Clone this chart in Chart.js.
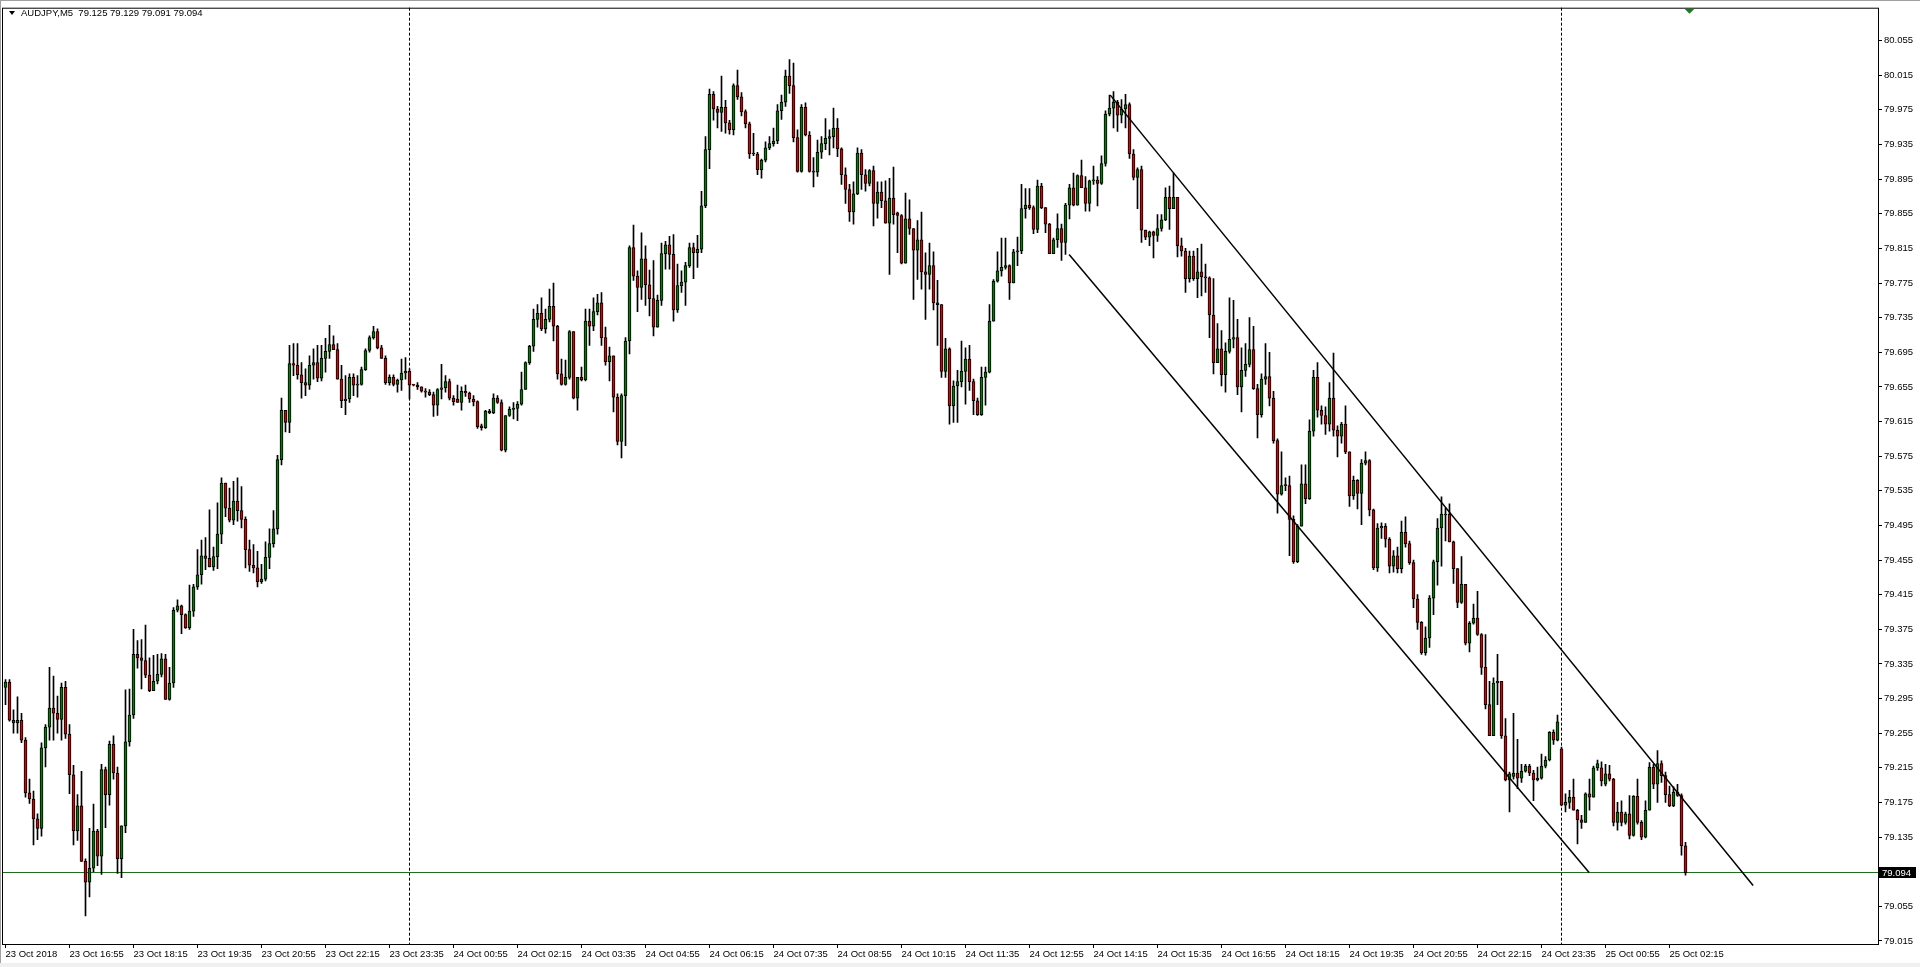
<!DOCTYPE html>
<html>
<head>
<meta charset="utf-8">
<title>AUDJPY,M5</title>
<script src="https://cdn.jsdelivr.net/npm/chart.js@4.4.1/dist/chart.umd.min.js"></script>
<style>
  html, body { margin: 0; padding: 0; background: #fff; overflow: hidden; }
  canvas { display: block; }
</style>
</head>
<body>
<canvas id="chart" width="1920" height="967"></canvas>
<script>
// AUDJPY M5 candles, 23 Oct 15:35 .. 25 Oct 02:40 (one entry per bar)
const symbolTitle = 'AUDJPY,M5';

const opens = [
  79.308,79.314,79.270,79.267,79.270,79.247,79.186,79.179,79.156,79.145,
  79.238,79.262,79.284,79.278,79.271,79.308,79.254,79.207,79.142,79.171,
  79.107,79.083,79.099,79.142,79.113,79.213,79.184,79.242,79.209,79.110,
  79.148,79.245,79.276,79.346,79.342,79.339,79.322,79.304,79.315,79.323,
  79.341,79.294,79.313,79.397,79.402,79.392,79.377,79.396,79.424,79.438,
  79.460,79.457,79.447,79.459,79.485,79.544,79.515,79.501,79.523,79.512,
  79.502,79.467,79.449,79.446,79.430,79.433,79.458,79.474,79.491,79.571,
  79.628,79.614,79.682,79.680,79.669,79.660,79.657,79.680,79.683,79.665,
  79.688,79.696,79.704,79.698,79.664,79.639,79.641,79.666,79.657,79.658,
  79.675,79.697,79.712,79.719,79.700,79.688,79.660,79.666,79.658,79.663,
  79.671,79.673,79.658,79.657,79.655,79.650,79.649,79.646,79.634,79.652,
  79.654,79.661,79.642,79.641,79.637,79.650,79.648,79.641,79.638,79.610,
  79.608,79.627,79.625,79.642,79.637,79.582,79.622,79.629,79.630,79.635,
  79.652,79.683,79.702,79.733,79.740,79.722,79.733,79.748,79.725,79.670,
  79.658,79.666,79.719,79.642,79.666,79.663,79.731,79.725,79.742,79.752,
  79.712,79.684,79.691,79.643,79.592,79.645,79.708,79.816,79.783,79.770,
  79.803,79.773,79.757,79.724,79.755,79.809,79.819,79.808,79.744,79.772,
  79.776,79.795,79.816,79.810,79.814,79.864,79.929,79.993,79.976,79.972,
  79.978,79.960,79.952,80.003,79.990,79.973,79.959,79.925,79.924,79.906,
  79.917,79.931,79.936,79.939,79.974,79.984,80.014,80.003,79.943,79.904,
  79.978,79.946,79.904,79.903,79.926,79.936,79.942,79.944,79.954,79.930,
  79.900,79.883,79.857,79.878,79.925,79.900,79.890,79.905,79.867,79.880,
  79.870,79.844,79.873,79.856,79.853,79.798,79.849,79.838,79.813,79.825,
  79.788,79.785,79.795,79.752,79.750,79.673,79.699,79.633,79.656,79.661,
  79.673,79.687,79.661,79.639,79.623,79.666,79.672,79.731,79.777,79.789,
  79.793,79.795,79.775,79.811,79.812,79.861,79.865,79.862,79.837,79.887,
  79.862,79.843,79.809,79.825,79.838,79.822,79.865,79.885,79.865,79.899,
  79.885,79.867,79.893,79.894,79.890,79.913,79.970,79.977,79.984,79.969,
  79.976,79.981,79.924,79.897,79.906,79.836,79.828,79.834,79.830,79.838,
  79.848,79.874,79.861,79.874,79.818,79.812,79.780,79.806,79.780,79.788,
  79.782,79.781,79.738,79.683,79.699,79.669,79.696,79.710,79.712,79.655,
  79.674,79.681,79.698,79.653,79.623,79.664,79.667,79.642,79.593,79.531,
  79.541,79.541,79.502,79.453,79.494,79.543,79.526,79.604,79.666,79.628,
  79.622,79.612,79.642,79.605,79.598,79.612,79.580,79.529,79.547,79.532,
  79.567,79.570,79.513,79.446,79.492,79.494,79.479,79.448,79.460,79.445,
  79.487,79.474,79.452,79.410,79.383,79.348,79.365,79.411,79.453,79.492,
  79.507,79.508,79.476,79.445,79.406,79.427,79.359,79.382,79.388,79.369,
  79.331,79.288,79.252,79.313,79.315,79.252,79.201,79.205,79.209,79.203,
  79.211,79.217,79.209,79.201,79.203,79.217,79.224,79.256,79.247,79.237,
  79.172,79.175,79.181,79.166,79.155,79.152,79.185,79.181,79.215,79.215,
  79.196,79.208,79.202,79.152,79.164,79.152,79.162,79.137,79.182,79.152,
  79.135,79.166,79.216,79.196,79.220,79.206,79.184,79.171,79.187,79.183,
  79.125
];

const highs = [
  79.317,79.317,79.282,79.297,79.278,79.250,79.202,79.188,79.162,79.244,
  79.265,79.331,79.321,79.298,79.313,79.315,79.265,79.218,79.184,79.211,
  79.110,79.145,79.173,79.144,79.219,79.216,79.246,79.252,79.216,79.148,
  79.305,79.306,79.375,79.362,79.363,79.380,79.342,79.345,79.346,79.347,
  79.346,79.331,79.400,79.409,79.403,79.393,79.426,79.427,79.467,79.478,
  79.481,79.513,79.470,79.521,79.550,79.544,79.538,79.546,79.550,79.540,
  79.505,79.478,79.473,79.465,79.450,79.476,79.491,79.512,79.576,79.642,
  79.628,79.703,79.705,79.705,79.683,79.676,79.691,79.699,79.703,79.703,
  79.711,79.726,79.714,79.705,79.680,79.668,79.670,79.670,79.668,79.678,
  79.699,79.714,79.725,79.722,79.703,79.691,79.669,79.669,79.664,79.687,
  79.689,79.676,79.658,79.660,79.655,79.653,79.652,79.649,79.653,79.681,
  79.668,79.664,79.645,79.657,79.655,79.657,79.649,79.645,79.639,79.612,
  79.628,79.629,79.647,79.645,79.640,79.622,79.632,79.637,79.638,79.672,
  79.684,79.703,79.745,79.750,79.758,79.745,79.768,79.775,79.726,79.687,
  79.686,79.720,79.719,79.666,79.678,79.745,79.745,79.758,79.762,79.764,
  79.724,79.701,79.691,79.647,79.647,79.712,79.818,79.842,79.789,79.833,
  79.818,79.790,79.801,79.761,79.821,79.823,79.829,79.831,79.797,79.789,
  79.799,79.821,79.821,79.830,79.881,79.944,79.999,79.996,79.979,80.014,
  79.986,79.963,80.005,80.021,79.995,79.975,79.961,79.948,79.926,79.918,
  79.938,79.944,79.954,79.981,79.992,80.021,80.033,80.029,79.952,79.981,
  79.983,79.950,79.920,79.940,79.944,79.965,79.952,79.977,79.965,79.931,
  79.908,79.889,79.892,79.931,79.929,79.906,79.906,79.910,79.892,79.892,
  79.893,79.896,79.909,79.857,79.854,79.879,79.871,79.838,79.847,79.857,
  79.810,79.821,79.811,79.778,79.750,79.711,79.700,79.662,79.674,79.708,
  79.700,79.703,79.664,79.642,79.678,79.678,79.750,79.779,79.811,79.827,
  79.827,79.796,79.814,79.828,79.889,79.884,79.884,79.864,79.894,79.890,
  79.862,79.844,79.827,79.855,79.843,79.867,79.889,79.902,79.900,79.917,
  79.898,79.894,79.910,79.898,79.922,79.974,79.992,79.996,79.986,79.987,
  79.993,79.983,79.929,79.908,79.910,79.836,79.835,79.835,79.854,79.854,
  79.885,79.887,79.902,79.874,79.827,79.815,79.812,79.812,79.815,79.820,
  79.797,79.782,79.780,79.728,79.720,79.706,79.758,79.755,79.733,79.700,
  79.705,79.735,79.725,79.658,79.670,79.705,79.695,79.650,79.595,79.580,
  79.550,79.552,79.506,79.496,79.565,79.565,79.617,79.674,79.683,79.633,
  79.632,79.660,79.694,79.610,79.614,79.633,79.580,79.552,79.548,79.571,
  79.580,79.571,79.514,79.497,79.498,79.497,79.481,79.466,79.470,79.500,
  79.505,79.477,79.455,79.415,79.384,79.378,79.414,79.455,79.503,79.528,
  79.515,79.520,79.477,79.445,79.459,79.427,79.384,79.404,79.419,79.370,
  79.369,79.315,79.319,79.346,79.315,79.272,79.210,79.278,79.248,79.219,
  79.219,79.219,79.212,79.216,79.231,79.228,79.257,79.259,79.276,79.239,
  79.185,79.189,79.202,79.167,79.160,79.186,79.202,79.217,79.224,79.222,
  79.219,79.218,79.203,79.175,79.177,79.164,79.183,79.183,79.202,79.154,
  79.177,79.221,79.219,79.235,79.223,79.210,79.194,79.193,79.196,79.185,
  79.129
];

const lows = [
  79.288,79.269,79.255,79.255,79.244,79.181,79.174,79.126,79.132,79.136,
  79.216,79.247,79.247,79.255,79.247,79.249,79.185,79.126,79.131,79.107,
  79.044,79.066,79.095,79.102,79.092,79.146,79.172,79.202,79.093,79.088,
  79.140,79.240,79.272,79.330,79.306,79.319,79.303,79.304,79.312,79.320,
  79.294,79.293,79.308,79.395,79.370,79.376,79.375,79.390,79.421,79.427,
  79.444,79.447,79.443,79.445,79.474,79.505,79.499,79.496,79.500,79.492,
  79.446,79.442,79.440,79.424,79.428,79.431,79.445,79.470,79.485,79.565,
  79.603,79.602,79.668,79.664,79.642,79.645,79.652,79.664,79.661,79.662,
  79.672,79.688,79.698,79.664,79.631,79.623,79.637,79.645,79.643,79.657,
  79.674,79.695,79.710,79.699,79.688,79.658,79.657,79.656,79.649,79.651,
  79.664,79.641,79.656,79.652,79.649,79.643,79.645,79.621,79.622,79.641,
  79.649,79.640,79.634,79.637,79.628,79.644,79.637,79.633,79.607,79.605,
  79.607,79.624,79.624,79.636,79.581,79.580,79.621,79.618,79.616,79.634,
  79.652,79.681,79.696,79.724,79.720,79.717,79.730,79.708,79.664,79.657,
  79.657,79.664,79.641,79.628,79.662,79.662,79.703,79.720,79.738,79.703,
  79.680,79.662,79.626,79.588,79.573,79.587,79.693,79.778,79.742,79.756,
  79.749,79.737,79.714,79.724,79.749,79.791,79.791,79.731,79.741,79.764,
  79.749,79.793,79.780,79.793,79.810,79.862,79.907,79.963,79.954,79.950,
  79.948,79.947,79.946,79.987,79.968,79.954,79.919,79.922,79.900,79.896,
  79.915,79.929,79.933,79.936,79.964,79.979,79.994,79.938,79.903,79.903,
  79.945,79.903,79.886,79.898,79.919,79.929,79.923,79.931,79.921,79.889,
  79.867,79.846,79.843,79.877,79.883,79.881,79.887,79.841,79.850,79.862,
  79.844,79.785,79.843,79.810,79.797,79.798,79.831,79.756,79.779,79.768,
  79.733,79.768,79.744,79.703,79.666,79.666,79.612,79.614,79.614,79.655,
  79.635,79.651,79.623,79.622,79.622,79.634,79.671,79.731,79.776,79.783,
  79.791,79.756,79.775,79.795,79.809,79.850,79.860,79.832,79.833,79.861,
  79.833,79.809,79.809,79.816,79.801,79.808,79.849,79.864,79.865,79.885,
  79.858,79.858,79.889,79.864,79.889,79.910,79.968,79.954,79.950,79.960,
  79.954,79.919,79.894,79.861,79.822,79.825,79.818,79.804,79.823,79.835,
  79.847,79.837,79.861,79.805,79.806,79.764,79.776,79.778,79.758,79.760,
  79.764,79.712,79.670,79.683,79.656,79.649,79.694,79.700,79.646,79.626,
  79.667,79.678,79.652,79.596,79.620,79.658,79.633,79.590,79.509,79.530,
  79.535,79.460,79.451,79.452,79.494,79.520,79.525,79.598,79.620,79.612,
  79.600,79.604,79.598,79.574,79.590,79.578,79.517,79.525,79.514,79.496,
  79.565,79.506,79.444,79.442,79.480,79.470,79.440,79.441,79.440,79.440,
  79.470,79.450,79.400,79.375,79.346,79.345,79.354,79.392,79.426,79.448,
  79.477,79.476,79.428,79.400,79.405,79.357,79.349,79.381,79.368,79.323,
  79.283,79.252,79.252,79.288,79.249,79.200,79.164,79.202,79.191,79.198,
  79.210,79.206,79.177,79.200,79.202,79.215,79.223,79.242,79.246,79.171,
  79.164,79.168,79.166,79.127,79.145,79.152,79.166,79.181,79.212,79.194,
  79.194,79.200,79.148,79.143,79.148,79.150,79.133,79.136,79.150,79.132,
  79.134,79.166,79.191,79.175,79.198,79.175,79.170,79.170,79.182,79.114,
  79.091
];

const closes = [
  79.314,79.270,79.267,79.270,79.247,79.186,79.179,79.156,79.145,79.238,
  79.262,79.284,79.278,79.271,79.308,79.254,79.207,79.142,79.171,79.107,
  79.083,79.099,79.142,79.113,79.213,79.184,79.242,79.209,79.110,79.148,
  79.245,79.276,79.346,79.342,79.339,79.322,79.304,79.315,79.323,79.341,
  79.294,79.313,79.397,79.402,79.392,79.377,79.396,79.424,79.438,79.460,
  79.457,79.447,79.459,79.485,79.544,79.515,79.501,79.523,79.512,79.502,
  79.467,79.449,79.446,79.430,79.433,79.458,79.474,79.491,79.571,79.628,
  79.614,79.682,79.680,79.669,79.660,79.657,79.680,79.683,79.665,79.688,
  79.696,79.704,79.698,79.664,79.639,79.641,79.666,79.657,79.658,79.675,
  79.697,79.712,79.719,79.700,79.688,79.660,79.666,79.658,79.663,79.671,
  79.673,79.657,79.657,79.655,79.650,79.649,79.646,79.634,79.652,79.654,
  79.661,79.642,79.638,79.637,79.650,79.648,79.641,79.638,79.609,79.608,
  79.627,79.625,79.642,79.637,79.582,79.622,79.629,79.630,79.635,79.652,
  79.683,79.702,79.733,79.740,79.722,79.733,79.748,79.725,79.670,79.658,
  79.666,79.719,79.642,79.666,79.663,79.731,79.725,79.742,79.752,79.712,
  79.684,79.691,79.643,79.592,79.645,79.708,79.816,79.783,79.770,79.803,
  79.773,79.757,79.724,79.755,79.809,79.819,79.808,79.744,79.772,79.776,
  79.795,79.816,79.810,79.814,79.864,79.929,79.993,79.976,79.972,79.978,
  79.960,79.952,80.003,79.990,79.973,79.959,79.924,79.924,79.906,79.917,
  79.931,79.936,79.939,79.974,79.984,80.014,80.003,79.943,79.904,79.978,
  79.946,79.904,79.903,79.926,79.936,79.942,79.944,79.954,79.930,79.900,
  79.883,79.857,79.878,79.925,79.900,79.890,79.905,79.867,79.880,79.870,
  79.844,79.873,79.854,79.853,79.798,79.849,79.838,79.813,79.825,79.788,
  79.785,79.795,79.752,79.750,79.673,79.699,79.633,79.656,79.661,79.673,
  79.687,79.661,79.639,79.623,79.666,79.672,79.731,79.777,79.789,79.793,
  79.795,79.775,79.811,79.812,79.861,79.865,79.862,79.837,79.887,79.862,
  79.843,79.809,79.825,79.838,79.822,79.865,79.885,79.865,79.899,79.885,
  79.867,79.893,79.894,79.890,79.913,79.970,79.977,79.984,79.969,79.976,
  79.981,79.924,79.897,79.906,79.836,79.828,79.834,79.830,79.838,79.848,
  79.874,79.861,79.874,79.818,79.812,79.780,79.806,79.780,79.788,79.782,
  79.781,79.738,79.683,79.699,79.669,79.696,79.710,79.712,79.655,79.674,
  79.681,79.698,79.653,79.623,79.664,79.667,79.642,79.593,79.531,79.541,
  79.541,79.502,79.453,79.494,79.543,79.526,79.604,79.666,79.628,79.622,
  79.612,79.642,79.605,79.598,79.612,79.580,79.529,79.547,79.532,79.567,
  79.570,79.513,79.446,79.492,79.494,79.479,79.448,79.460,79.445,79.487,
  79.474,79.452,79.410,79.383,79.348,79.365,79.411,79.453,79.492,79.508,
  79.508,79.476,79.445,79.406,79.427,79.359,79.382,79.388,79.369,79.331,
  79.288,79.252,79.313,79.315,79.252,79.201,79.208,79.209,79.203,79.211,
  79.217,79.209,79.201,79.203,79.217,79.224,79.256,79.247,79.268,79.172,
  79.175,79.181,79.166,79.155,79.152,79.185,79.181,79.215,79.220,79.200,
  79.208,79.202,79.152,79.164,79.152,79.162,79.137,79.182,79.152,79.135,
  79.166,79.216,79.196,79.220,79.206,79.184,79.171,79.187,79.183,79.125,
  79.094
];

// time axis labels, one every 16 bars starting at bar 0
const timeTickLabels = [
  '23 Oct 2018', '23 Oct 16:55', '23 Oct 18:15', '23 Oct 19:35', '23 Oct 20:55',
  '23 Oct 22:15', '23 Oct 23:35', '24 Oct 00:55', '24 Oct 02:15', '24 Oct 03:35',
  '24 Oct 04:55', '24 Oct 06:15', '24 Oct 07:35', '24 Oct 08:55', '24 Oct 10:15',
  '24 Oct 11:35', '24 Oct 12:55', '24 Oct 14:15', '24 Oct 15:35', '24 Oct 16:55',
  '24 Oct 18:15', '24 Oct 19:35', '24 Oct 20:55', '24 Oct 22:15', '24 Oct 23:35',
  '25 Oct 00:55', '25 Oct 02:15'
];

const priceTicks = [
  80.055, 80.015, 79.975, 79.935, 79.895, 79.855, 79.815, 79.775, 79.735,
  79.695, 79.655, 79.615, 79.575, 79.535, 79.495, 79.455, 79.415, 79.375,
  79.335, 79.295, 79.255, 79.215, 79.175, 79.135, 79.095, 79.055, 79.015
];

// bars where a new day starts (period separators)
const daySeparators = [101, 389];

// hand drawn channel, anchored in bar index / price
const upperTrend = [{ x: 276.2, y: 79.992 }, { x: 436.9, y: 79.079 }];
const lowerTrend = [{ x: 265.9, y: 79.808 }, { x: 395.9, y: 79.094 }];

const bidPrice = closes[closes.length - 1];

const bullColor = '#008000';
const bearColor = '#e00000';
const bidLineColor = '#1e6e1e';
const fontFamily = "'Liberation Sans', Arial, sans-serif";

function buildBodies() {
  return opens.map((o, i) => ({ x: i, y: [o, closes[i]] }));
}

function buildWicks() {
  return lows.map((l, i) => ({ x: i, y: [l, highs[i]] }));
}

function bodyColors() {
  return closes.map((c, i) => (c >= opens[i] ? bullColor : bearColor));
}

const mt4Decor = {
  id: 'mt4Decor',
  beforeDraw(chart) {
    const ctx = chart.ctx;
    ctx.save();
    ctx.fillStyle = '#fff';
    ctx.fillRect(0, 0, chart.width, chart.height);
    ctx.fillStyle = '#a0a0a0';
    ctx.fillRect(0, 0, chart.width, 1);
    ctx.fillRect(0, 0, 1, chart.height);
    ctx.fillStyle = '#f0f0f0';
    ctx.fillRect(0, chart.height - 4, chart.width, 4);
    ctx.restore();
  },
  beforeDatasetsDraw(chart) {
    const { ctx, chartArea: a, scales: { x, y } } = chart;
    ctx.save();
    ctx.lineWidth = 1;
    ctx.strokeStyle = '#000';
    ctx.setLineDash([3, 2]);
    daySeparators.forEach(idx => {
      const px = Math.floor(x.getPixelForValue(idx)) + 0.5;
      ctx.beginPath();
      ctx.moveTo(px, a.top);
      ctx.lineTo(px, a.bottom);
      ctx.stroke();
    });
    ctx.setLineDash([]);
    const by = Math.floor(y.getPixelForValue(bidPrice)) + 0.5;
    ctx.strokeStyle = bidLineColor;
    ctx.beginPath();
    ctx.moveTo(a.left, by);
    ctx.lineTo(a.right, by);
    ctx.stroke();
    ctx.restore();
  },
  afterDraw(chart) {
    const { ctx, chartArea: a, scales: { x, y } } = chart;
    ctx.save();
    // frame
    ctx.strokeStyle = '#000';
    ctx.lineWidth = 1;
    ctx.strokeRect(a.left + 0.5, a.top + 0.5, a.right - a.left, a.bottom - a.top);

    // header: symbol and last bar OHLC
    const n = closes.length - 1;
    ctx.fillStyle = '#000';
    ctx.beginPath();
    ctx.moveTo(9, 11);
    ctx.lineTo(15, 11);
    ctx.lineTo(12, 15);
    ctx.closePath();
    ctx.fill();
    ctx.font = '9.5px ' + fontFamily;
    ctx.textBaseline = 'middle';
    ctx.textAlign = 'left';
    const head = symbolTitle + '  ' + [opens[n], highs[n], lows[n], closes[n]].map(v => v.toFixed(3)).join(' ');
    ctx.fillText(head, 21, 13);

    // bid price label on the axis
    const by = Math.floor(y.getPixelForValue(bidPrice)) + 0.5;
    ctx.fillStyle = '#000';
    ctx.fillRect(a.right + 1, by - 5.5, 37, 11);
    ctx.fillStyle = '#fff';
    ctx.fillText(bidPrice.toFixed(3), a.right + 4, by + 0.5);

    // chart shift marker
    const sx = Math.floor(x.getPixelForValue(closes.length)) + 0.5;
    ctx.fillStyle = '#1e7a1e';
    ctx.beginPath();
    ctx.moveTo(sx - 5, a.top + 1);
    ctx.lineTo(sx + 5, a.top + 1);
    ctx.lineTo(sx, a.top + 6);
    ctx.closePath();
    ctx.fill();
    ctx.restore();
  }
};

Chart.defaults.font.family = fontFamily;

const chart = new Chart(document.getElementById('chart'), {
  type: 'bar',
  data: {
    datasets: [
      {
        label: 'upper',
        type: 'line',
        data: upperTrend,
        borderColor: '#000',
        borderWidth: 1.5,
        pointRadius: 0,
        order: 0
      },
      {
        label: 'lower',
        type: 'line',
        data: lowerTrend,
        borderColor: '#000',
        borderWidth: 1.5,
        pointRadius: 0,
        order: 0
      },
      {
        label: 'body',
        data: buildBodies(),
        backgroundColor: bodyColors(),
        borderColor: '#000',
        borderWidth: 1,
        borderSkipped: false,
        barThickness: 3,
        minBarLength: 1,
        grouped: false,
        order: 1
      },
      {
        label: 'wick',
        data: buildWicks(),
        backgroundColor: '#000',
        borderWidth: 0,
        barThickness: 1,
        minBarLength: 1,
        grouped: false,
        order: 2
      }
    ]
  },
  options: {
    responsive: false,
    animation: false,
    events: [],
    layout: { padding: { left: 2, top: 4, right: 0, bottom: 0 } },
    plugins: {
      legend: { display: false },
      tooltip: { enabled: false }
    },
    scales: {
      x: {
        type: 'linear',
        position: 'bottom',
        min: -0.875,
        max: 468.125,
        offset: false,
        afterBuildTicks: s => { s.ticks = timeTickLabels.map((t, k) => ({ value: k * 16 })); },
        afterFit: s => { s.height = 23; },
        grid: { drawOnChartArea: false, offset: false, tickLength: 4, tickColor: '#000' },
        border: { display: false },
        ticks: {
          autoSkip: false,
          maxRotation: 0,
          align: 'start',
          padding: 1,
          color: '#000',
          font: { size: 9.5 },
          callback: (v, k) => timeTickLabels[k]
        }
      },
      y: {
        type: 'linear',
        position: 'right',
        min: 79.0115,
        max: 80.093,
        afterBuildTicks: s => { s.ticks = priceTicks.map(v => ({ value: v })); },
        afterFit: s => { s.width = 42; },
        grid: { drawOnChartArea: false, tickLength: 4, tickColor: '#000' },
        border: { display: false },
        ticks: {
          padding: 2,
          color: '#000',
          font: { size: 9.5 },
          callback: v => v.toFixed(3)
        }
      }
    }
  },
  plugins: [mt4Decor]
});
</script>
</body>
</html>
